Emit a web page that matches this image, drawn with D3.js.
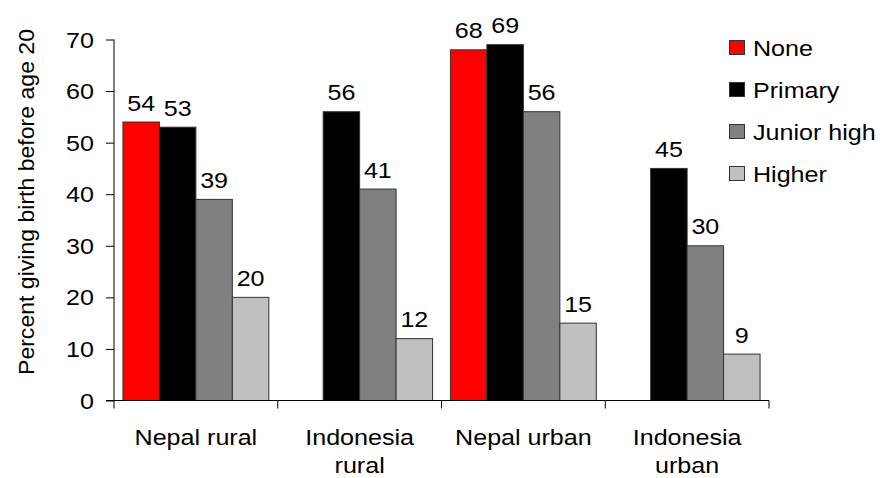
<!DOCTYPE html>
<html>
<head>
<meta charset="utf-8">
<script src="https://cdn.jsdelivr.net/npm/d3@7"></script>
<style>
  html, body { margin: 0; padding: 0; background: #fff; }
  svg text { font-family: "Liberation Sans", Arial, sans-serif; fill: #000; }
</style>
</head>
<body>
<svg id="chart" width="894" height="478"></svg>
<script>
// Groups along the x axis (two-line labels split on "\n")
const groups = ["Nepal rural", "Indonesia\nrural", "Nepal urban", "Indonesia\nurban"];
// Education levels, one bar each per group
const levels = ["None", "Primary", "Junior high", "Higher"];
const levelColors = ["#ff0000", "#000000", "#808080", "#c0c0c0"];
// Percent giving birth before age 20, per level (null = not reported)
const noneValues = [54, null, 68, null];
const primaryValues = [53, 56, 69, 45];
const juniorHighValues = [39, 41, 56, 30];
const higherValues = [20, 12, 15, 9];
const yTicks = [0, 10, 20, 30, 40, 50, 60, 70];
const yTitle = "Percent giving birth before age 20";

const seriesValues = [noneValues, primaryValues, juniorHighValues, higherValues];

const svg = d3.select("#chart");
const FS = 22;          // font size
const SX = 1.14;        // horizontal text stretch

const plot = { left: 114, right: 769, top: 39.5, bottom: 400.5 };

const x0 = d3.scaleBand().domain(groups).range([plot.left, plot.right]).paddingInner(0).paddingOuter(0);
const x1 = d3.scaleBand().domain(levels).range([0, x0.bandwidth()]).paddingInner(0).paddingOuter(0.245);
const y = d3.scaleLinear().domain([0, 70]).range([plot.bottom, plot.top]);
const color = d3.scaleOrdinal().domain(levels).range(levelColors);

function stretchedText(sel, x, yy, anchor) {
  return sel.append("text")
    .attr("transform", `translate(${x},${yy}) scale(${SX},1)`)
    .attr("text-anchor", anchor)
    .style("font-size", FS + "px");
}

// Bars
const bars = [];
groups.forEach((g, gi) => {
  levels.forEach((l, li) => {
    const v = seriesValues[li][gi];
    if (v != null) bars.push({ g, l, v });
  });
});

const barG = svg.append("g");
barG.selectAll("rect").data(bars).enter().append("rect")
  .attr("x", d => x0(d.g) + x1(d.l))
  .attr("y", d => y(d.v))
  .attr("width", x1.bandwidth())
  .attr("height", d => y(0) - y(d.v))
  .attr("fill", d => color(d.l))
  .attr("stroke", "#333")
  .attr("stroke-width", 1);

// Value labels
bars.forEach(d => {
  stretchedText(svg, x0(d.g) + x1(d.l) + x1.bandwidth() / 2, y(d.v) - 11.5, "middle").text(d.v);
});

// Y axis
const yAxis = d3.axisLeft(y).tickValues(yTicks).tickSize(8).tickPadding(0).tickFormat(() => "");
const yg = svg.append("g").attr("transform", `translate(${plot.left},0)`).call(yAxis);
yg.select(".domain").attr("d", `M0,${plot.top}V${plot.bottom}`).attr("stroke", "#000");
yg.selectAll(".tick line").attr("stroke", "#000");
yTicks.forEach(t => {
  stretchedText(svg, 94, y(t) + 8, "end").text(t);
});

// X axis with ticks at group boundaries
const boundaries = groups.map(g => x0(g)).concat([plot.right]);
const xg = svg.append("g");
xg.append("line").attr("x1", plot.left - 8).attr("x2", plot.right)
  .attr("y1", plot.bottom).attr("y2", plot.bottom).attr("stroke", "#000");
xg.selectAll("line.tk").data(boundaries).enter().append("line").attr("class", "tk")
  .attr("x1", d => d).attr("x2", d => d)
  .attr("y1", plot.bottom).attr("y2", plot.bottom + 8).attr("stroke", "#000");

groups.forEach(g => {
  const cx = x0(g) + x0.bandwidth() / 2;
  g.split("\n").forEach((line, i) => {
    stretchedText(svg, cx, 445 + i * 27.5, "middle").text(line);
  });
});

// Y axis title
svg.append("text")
  .attr("transform", `translate(34,202) rotate(-90)`)
  .attr("text-anchor", "middle")
  .style("font-size", FS + "px")
  .attr("textLength", 346)
  .attr("lengthAdjust", "spacingAndGlyphs")
  .text(yTitle);

// Legend
const legend = svg.append("g");
levels.forEach((l, i) => {
  const ly = 47.5 + i * 42;
  legend.append("rect")
    .attr("x", 729.5).attr("y", ly - 7).attr("width", 15).attr("height", 14)
    .attr("fill", levelColors[i]).attr("stroke", "#333");
  stretchedText(legend, 753, ly + 8, "start").text(l);
});
</script>
</body>
</html>
